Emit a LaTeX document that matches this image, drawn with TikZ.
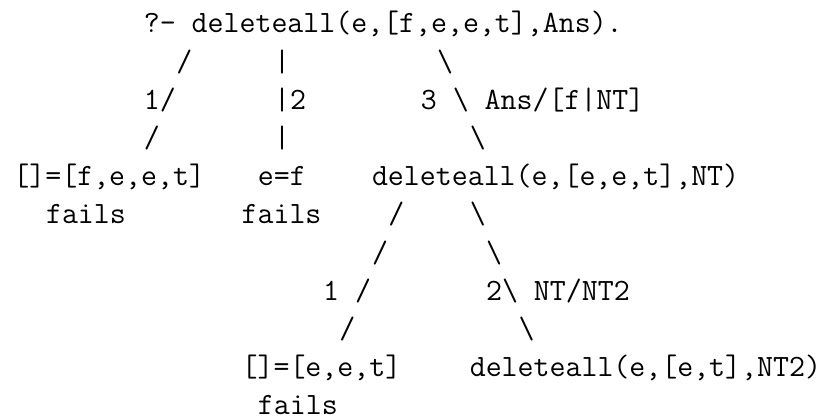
\documentclass[tikz,border=0pt]{standalone}
\usepackage{fontspec}
\begin{document}
\begin{tikzpicture}
[
    x=8.15pt, y=-19.1pt,
    ascii/.style={anchor=base west, inner sep=0pt, font=\fontsize{15.5}{19}\selectfont\ttfamily},
]
\useasboundingbox (-0.8,-0.864) rectangle (49.88,10.13);
\node[ascii] (query) at (8,0) {?- deleteall(e,[f,e,e,t],Ans).};
\node[ascii] (qa1) at (10,1) {/};
\node[ascii] (qb1) at (16,1) {|};
\node[ascii] (qc1) at (26,1) {\textbackslash};
\node[ascii] (qa2) at (8,2) {1/};
\node[ascii] (qb2) at (16,2) {|2};
\node[ascii] (qc2) at (25,2) {3 \textbackslash{} Ans/[f|NT]};
\node[ascii] (qa3) at (8,3) {/};
\node[ascii] (qb3) at (16,3) {|};
\node[ascii] (qc3) at (28,3) {\textbackslash};
\node[ascii] (unifya) at (0,4) {[]=[f,e,e,t]};
\node[ascii] (unifyb) at (15,4) {e=f};
\node[ascii] (goal) at (22,4) {deleteall(e,[e,e,t],NT)};
\node[ascii] (failsa) at (2,5) {fails};
\node[ascii] (failsb) at (14,5) {fails};
\node[ascii] (ga1) at (23,5) {/};
\node[ascii] (gb1) at (28,5) {\textbackslash};
\node[ascii] (ga2) at (22,6) {/};
\node[ascii] (gb2) at (29,6) {\textbackslash};
\node[ascii] (ga3) at (19,7) {1 /};
\node[ascii] (gb3) at (29,7) {2\textbackslash{} NT/NT2};
\node[ascii] (ga4) at (20,8) {/};
\node[ascii] (gb4) at (31,8) {\textbackslash};
\node[ascii] (unifyc) at (14,9) {[]=[e,e,t]};
\node[ascii] (subgoal) at (28,9) {deleteall(e,[e,t],NT2)};
\node[ascii] (failsc) at (15,10) {fails};
\end{tikzpicture}
\end{document}
